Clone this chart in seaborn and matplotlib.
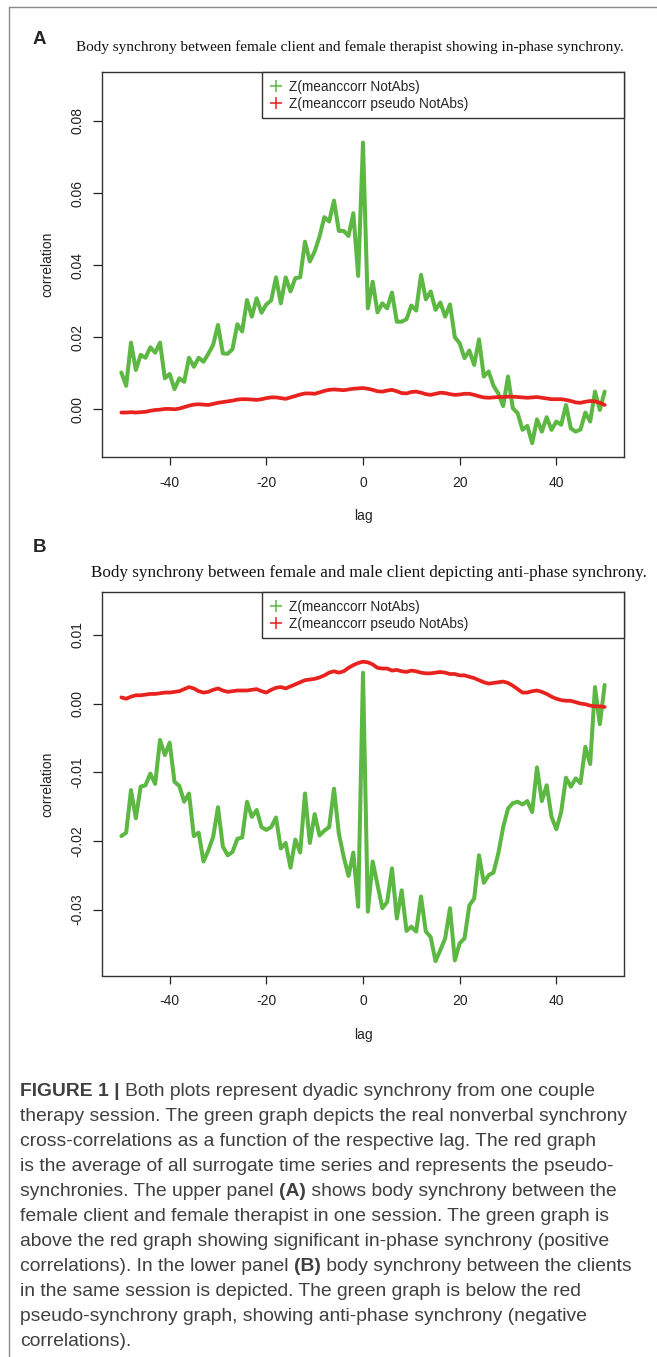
import numpy as np
import pandas as pd
import matplotlib
matplotlib.use("Agg")
import matplotlib.pyplot as plt
import seaborn as sns
from matplotlib.lines import Line2D

sns.set_style("white")
plt.rcParams['font.family'] = ['Liberation Sans', 'DejaVu Sans']
plt.rcParams['axes.unicode_minus'] = False

# ---------------- data ----------------
lags = list(range(-50, 51))

# panel A: female client / female therapist
green_a = [0.0102, 0.0065, 0.0185, 0.0109, 0.0151, 0.0143, 0.0172, 0.0157, 0.0185, 0.0086,
           0.0098, 0.0056, 0.0086, 0.0076, 0.0143, 0.0118, 0.0143, 0.0132, 0.0154, 0.0179,
           0.0234, 0.0155, 0.0154, 0.0167, 0.0236, 0.0216, 0.0303, 0.0257, 0.0308, 0.0268,
           0.0291, 0.0302, 0.0366, 0.0294, 0.0366, 0.0327, 0.0364, 0.0366, 0.0465, 0.0410,
           0.0438, 0.0479, 0.0533, 0.0521, 0.0579, 0.0495, 0.0495, 0.0481, 0.0544, 0.0370,
           0.0740,
           0.0280, 0.0354, 0.0269, 0.0294, 0.0280, 0.0324, 0.0243, 0.0243, 0.0250, 0.0288,
           0.0274, 0.0373, 0.0305, 0.0327, 0.0276, 0.0296, 0.0257, 0.0291, 0.0200, 0.0183,
           0.0142, 0.0163, 0.0123, 0.0194, 0.0091, 0.0105, 0.0065, 0.0044, 0.0009, 0.0091,
           0.0003, -0.0011, -0.0057, -0.0046, -0.0094, -0.0028, -0.0062, -0.0022, -0.0057, -0.0034,
           -0.0043, 0.0012, -0.0053, -0.0062, -0.0056, -0.0009, -0.0034, 0.0049, -0.0002, 0.0049]
red_a = [-0.0009, -0.0009, -0.0008, -0.0009, -0.0008, -0.0007, -0.0004, -0.0002, -0.0001, 0.0001,
         0.0001, 0.0000, 0.0002, 0.0006, 0.0010, 0.0013, 0.0014, 0.0013, 0.0012, 0.0015,
         0.0018, 0.0020, 0.0022, 0.0024, 0.0027, 0.0028, 0.0028, 0.0027, 0.0026, 0.0028,
         0.0031, 0.0033, 0.0033, 0.0031, 0.0029, 0.0033, 0.0037, 0.0041, 0.0044, 0.0044,
         0.0043, 0.0047, 0.0051, 0.0054, 0.0055, 0.0054, 0.0053, 0.0055, 0.0057, 0.0058,
         0.0059,
         0.0057, 0.0054, 0.0050, 0.0049, 0.0052, 0.0054, 0.0050, 0.0045, 0.0044, 0.0048,
         0.0049, 0.0046, 0.0042, 0.0040, 0.0043, 0.0046, 0.0045, 0.0042, 0.0040, 0.0041,
         0.0043, 0.0043, 0.0040, 0.0036, 0.0033, 0.0032, 0.0033, 0.0034, 0.0034, 0.0035,
         0.0035, 0.0034, 0.0033, 0.0032, 0.0033, 0.0034, 0.0032, 0.0030, 0.0028, 0.0028,
         0.0028, 0.0026, 0.0023, 0.0019, 0.0018, 0.0021, 0.0023, 0.0022, 0.0018, 0.0012]

# panel B: female client / male client
green_b = [-0.0193, -0.0188, -0.0126, -0.0167, -0.0121, -0.0119, -0.0102, -0.0117, -0.0053, -0.0075,
           -0.0057, -0.0114, -0.0120, -0.0143, -0.0131, -0.0193, -0.0188, -0.0230, -0.0214, -0.0194,
           -0.0151, -0.0208, -0.0221, -0.0216, -0.0197, -0.0195, -0.0143, -0.0165, -0.0155, -0.0180,
           -0.0184, -0.0180, -0.0166, -0.0211, -0.0203, -0.0239, -0.0198, -0.0217, -0.0131, -0.0203,
           -0.0161, -0.0192, -0.0185, -0.0180, -0.0124, -0.0189, -0.0223, -0.0251, -0.0217, -0.0296,
           0.0045,
           -0.0303, -0.0230, -0.0264, -0.0298, -0.0289, -0.0240, -0.0313, -0.0272, -0.0331, -0.0325,
           -0.0332, -0.0281, -0.0332, -0.0340, -0.0375, -0.0359, -0.0342, -0.0298, -0.0374, -0.0349,
           -0.0342, -0.0294, -0.0284, -0.0221, -0.0261, -0.0250, -0.0246, -0.0218, -0.0180, -0.0153,
           -0.0145, -0.0143, -0.0147, -0.0142, -0.0158, -0.0093, -0.0142, -0.0119, -0.0165, -0.0183,
           -0.0158, -0.0108, -0.0121, -0.0109, -0.0116, -0.0063, -0.0088, 0.0024, -0.0030, 0.0027]
red_b = [0.0009, 0.0007, 0.0010, 0.0012, 0.0012, 0.0013, 0.0014, 0.0014, 0.0015, 0.0016,
         0.0016, 0.0017, 0.0018, 0.0021, 0.0024, 0.0022, 0.0018, 0.0016, 0.0017, 0.0020,
         0.0022, 0.0019, 0.0017, 0.0018, 0.0019, 0.0019, 0.0019, 0.0020, 0.0021, 0.0018,
         0.0016, 0.0020, 0.0023, 0.0024, 0.0022, 0.0025, 0.0028, 0.0031, 0.0034, 0.0035,
         0.0036, 0.0038, 0.0041, 0.0045, 0.0047, 0.0045, 0.0047, 0.0052, 0.0056, 0.0059,
         0.0061,
         0.0060, 0.0057, 0.0052, 0.0051, 0.0051, 0.0048, 0.0049, 0.0047, 0.0046, 0.0048,
         0.0047, 0.0045, 0.0044, 0.0044, 0.0045, 0.0046, 0.0045, 0.0043, 0.0043, 0.0041,
         0.0041, 0.0039, 0.0037, 0.0034, 0.0031, 0.0029, 0.0030, 0.0031, 0.0032, 0.0030,
         0.0026, 0.0021, 0.0016, 0.0016, 0.0018, 0.0019, 0.0017, 0.0014, 0.0010, 0.0007,
         0.0005, 0.0004, 0.0004, 0.0002, 0.0000, -0.0001, -0.0003, -0.0004, -0.0004, -0.0005]

legend_labels = ["Z(meanccorr NotAbs)", "Z(meanccorr pseudo NotAbs)"]
x_ticks = [-40, -20, 0, 20, 40]
y_ticks_a = [0.00, 0.02, 0.04, 0.06, 0.08]
y_ticks_b = [-0.03, -0.02, -0.01, 0.00, 0.01]

title_a = "Body synchrony between female client and female therapist showing in-phase synchrony."
title_b = "Body synchrony between female and male client depicting anti-phase synchrony."

caption = [
    [("FIGURE 1 | ", True), ("Both plots represent dyadic synchrony from one couple", False)],
    [("therapy session. The green graph depicts the real nonverbal synchrony", False)],
    [("cross-correlations as a function of the respective lag. The red graph", False)],
    [("is the average of all surrogate time series and represents the pseudo-", False)],
    [("synchronies. The upper panel ", False), ("(A)", True), (" shows body synchrony between the", False)],
    [("female client and female therapist in one session. The green graph is", False)],
    [("above the red graph showing significant in-phase synchrony (positive", False)],
    [("correlations). In the lower panel ", False), ("(B)", True), (" body synchrony between the clients", False)],
    [("in the same session is depicted. The green graph is below the red", False)],
    [("pseudo-synchrony graph, showing anti-phase synchrony (negative", False)],
    [("correlations).", False)],
]

GREEN = "#5cb842"
RED = "#e8221e"

W, H = 657, 1357
fig = plt.figure(figsize=(W / 100, H / 100), dpi=100)


def panel(rect, green, red, yticks, ylim, ytick_fmt):
    ax = fig.add_axes(rect)
    df = pd.DataFrame({"lag": lags, "real": green, "pseudo": red})
    sns.lineplot(data=df, x="lag", y="real", ax=ax, color=GREEN, lw=2.9)
    sns.lineplot(data=df, x="lag", y="pseudo", ax=ax, color=RED, lw=2.7)
    ax.set_xlim(-54, 54)
    ax.set_ylim(*ylim)
    ax.set_xticks(x_ticks)
    ax.set_yticks(yticks)
    ax.set_yticklabels([ytick_fmt.format(v) for v in yticks], rotation=90, va="center")
    ax.tick_params(axis="x", direction="out", length=5.5, width=0.9, pad=8,
                   labelsize=10, colors="#222222", bottom=True)
    ax.tick_params(axis="y", direction="out", length=6.5, width=0.9, pad=6,
                   labelsize=10, colors="#222222", left=True)
    for s in ax.spines.values():
        s.set_color("#333333")
        s.set_linewidth(1.0)
    ax.set_xlabel("lag", fontsize=10, labelpad=14, color="#222222")
    ax.set_ylabel("correlation", fontsize=10, labelpad=12, color="#222222")
    handles = [Line2D([], [], ls="none", marker="+", ms=9, mew=1.1, color=GREEN),
               Line2D([], [], ls="none", marker="+", ms=9, mew=1.1, color=RED)]
    left = (262 - 102) / 522
    leg = ax.legend(handles, legend_labels, loc="upper left",
                    bbox_to_anchor=(left, 0, 1 - left, 1), mode="expand",
                    borderaxespad=0, fancybox=False, framealpha=1, edgecolor="#333333",
                    fontsize=9.8, handlelength=1.0, handletextpad=0.45, labelspacing=0.25,
                    borderpad=0.53)
    leg.get_frame().set_linewidth(1.0)
    return ax


def rect_from_px(x0, y0, x1, y1):
    return [x0 / W, 1 - y1 / H, (x1 - x0) / W, (y1 - y0) / H]


panel(rect_from_px(102, 72.3, 624, 457.3), green_a, red_a, y_ticks_a,
      (-0.01332, 0.0935), "{:.2f}")
panel(rect_from_px(102, 592.3, 624, 975.5), green_b, red_b, y_ticks_b,
      (-0.0396, 0.0162), "{:.2f}")

# panel letters and titles
fig.text(39 / W, 1 - 39 / H, "A", fontsize=13.5, fontweight="bold", ha="center", va="center")
fig.text(39 / W, 1 - 547 / H, "B", fontsize=13.5, fontweight="bold", ha="center", va="center")
fig.text(350 / W, 1 - 47 / H, title_a, fontsize=11.0, family="Liberation Serif",
         ha="center", va="center", color="#111111")
fig.text(368.5 / W, 1 - 573 / H, title_b, fontsize=12.3, family="Liberation Serif",
         ha="center", va="center", color="#111111")

# outer frame (top and left edges)
fig.add_artist(Line2D([9 / W, 9 / W], [0, 1 - 7 / H], transform=fig.transFigure,
                      color="#8a8a8a", lw=1.0))
fig.add_artist(Line2D([9 / W, 1], [1 - 7 / H, 1 - 7 / H], transform=fig.transFigure,
                      color="#8a8a8a", lw=1.0))

# caption, drawn segment by segment so bold parts line up
renderer = fig.canvas.get_renderer()
y0, dy = 1091, 25.1
for i, line in enumerate(caption):
    x = 20
    y = y0 + i * dy
    for txt, bold in line:
        t = fig.text(x / W, 1 - y / H, txt, fontsize=13.85, color="#404040",
                     fontweight="bold" if bold else "normal", va="center", ha="left")
        bb = t.get_window_extent(renderer)
        x = bb.x1

fig.savefig("out.png", dpi=100)
